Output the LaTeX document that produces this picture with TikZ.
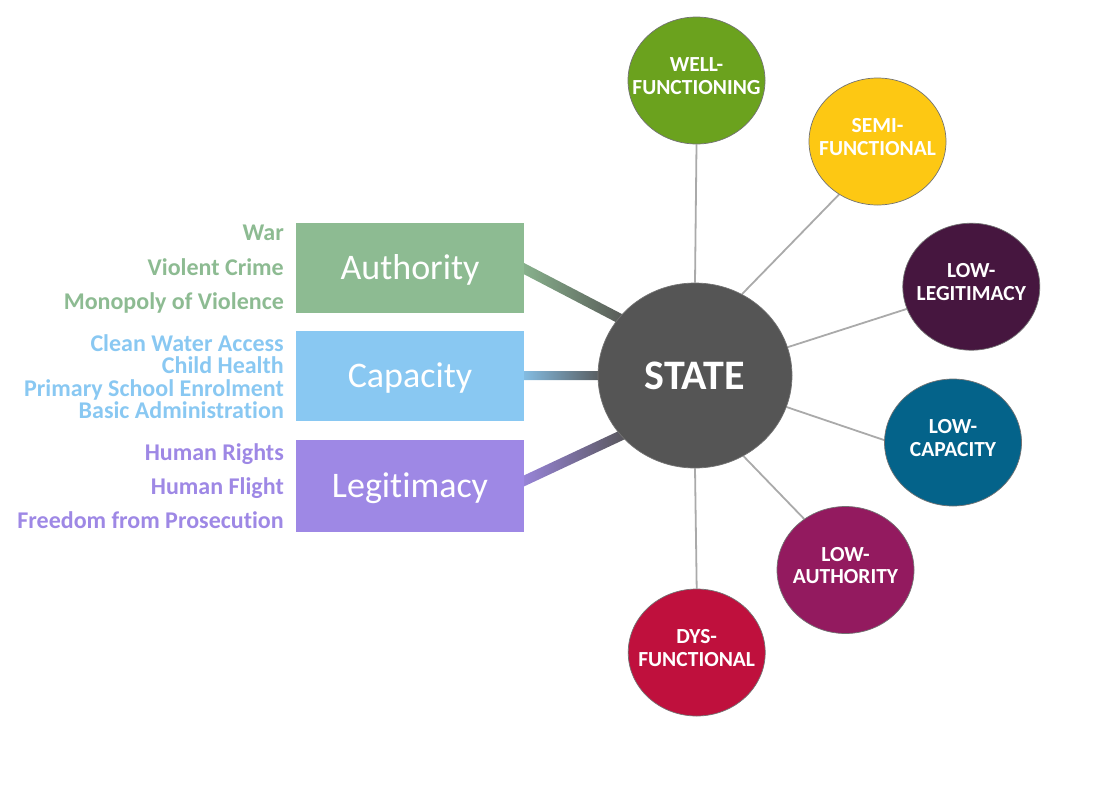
\documentclass[tikz,border=0pt]{standalone}
\usepackage{fontspec}
\setmainfont{Carlito}[Ligatures={NoCommon}]
\usetikzlibrary{shapes.geometric,calc,backgrounds}
\definecolor{authc}{HTML}{8DBB92}
\definecolor{capc}{HTML}{89C8F2}
\definecolor{legc}{HTML}{9E88E5}
\definecolor{statec}{HTML}{555555}
\definecolor{wfc}{HTML}{6BA21E}
\definecolor{semic}{HTML}{FDC813}
\definecolor{llc}{HTML}{46163F}
\definecolor{lcc}{HTML}{04638A}
\definecolor{lac}{HTML}{931A5F}
\definecolor{dysc}{HTML}{BF103D}
\definecolor{spokec}{HTML}{AAAAAA}
\newcommand\thicklink[5]{%
  \shade[left color=#4,right color=#5]
    ($(#1)!#3!90:(#2)$) -- ($(#1)!#3!-90:(#2)$) --
    ($(#2)!#3!90:(#1)$) -- ($(#2)!#3!-90:(#1)$) -- cycle;}
\begin{document}
\begin{tikzpicture}[x=1pt,y=-1pt,
  bubble/.style={ellipse, minimum width=137pt, minimum height=127pt, inner sep=0pt,
    draw=black!55, line width=0.7pt},
  bubbletext/.style={text=white, align=center, inner sep=0pt, yshift=4.5pt,
    font=\fontsize{21.5}{22.4}\selectfont\bfseries},
  catbox/.style={rectangle, minimum width=228pt, inner sep=0pt, text=white,
    font=\fontsize{36}{36}\selectfont, text height=23pt, text depth=0pt},
  item/.style={anchor=base east, inner sep=0pt, text height=15pt, text depth=4pt,
    font=\fontsize{24}{24}\selectfont\bfseries},
  spoke/.style={draw=spokec, line width=1.8pt}
]
\useasboundingbox (0,0) rectangle (1110,785);

% central node and outer bubbles
\node[ellipse, minimum width=194pt, minimum height=185pt, inner sep=0pt, fill=statec,
  draw=black!55, line width=0.7pt, text=white, font=\fontsize{42}{42}\selectfont\bfseries]
  (state) at (695,375.5) {STATE};

\node[bubble, fill=wfc, label={[bubbletext]center:{WELL-\\FUNCTIONING}}] (wf) at (696.5,80.5) {};
\node[bubble, fill=semic, label={[bubbletext]center:{SEMI-\\FUNCTIONAL}}] (semi) at (877.5,141.5) {};
\node[bubble, fill=llc, label={[bubbletext]center:{LOW-\\LEGITIMACY}}] (ll) at (971.3,286.7) {};
\node[bubble, fill=lcc, label={[bubbletext]center:{LOW-\\CAPACITY}}] (lc) at (953,442.5) {};
\node[bubble, fill=lac, label={[bubbletext]center:{LOW-\\AUTHORITY}}] (la) at (845.5,570) {};
\node[bubble, fill=dysc, label={[bubbletext]center:{DYS-\\FUNCTIONAL}}] (dys) at (696.7,652.5) {};

% category boxes
\node[catbox, fill=authc, minimum height=90pt] (auth) at (410,268) {Authority};
\node[catbox, fill=capc, minimum height=90pt] (cap) at (410,375.7) {Capacity};
\node[catbox, fill=legc, minimum height=92pt] (legit) at (410,485.5) {Legitimacy};

% indicator texts
\node[item, text=authc] (t1) at (284,240.7) {War};
\node[item, text=authc] (t2) at (284,275) {Violent Crime};
\node[item, text=authc] (t3) at (284,309) {Monopoly of Violence};
\node[item, text=capc] (t4) at (284,351.7) {Clean Water Access};
\node[item, text=capc] (t5) at (284,373.3) {Child Health};
\node[item, text=capc] (t6) at (284,396) {Primary School Enrolment};
\node[item, text=capc] (t7) at (284,418.3) {Basic Administration};
\node[item, text=legc] (t8) at (284,460.7) {Human Rights};
\node[item, text=legc] (t9) at (284,494.3) {Human Flight};
\node[item, text=legc] (t10) at (284,528.3) {Freedom from Prosecution};

% connectors behind
\coordinate (a1) at ($(auth.east)+(-10,-4.5)$);
\coordinate (a2) at ($(a1)!1.08!(state.143)$);
\coordinate (c1) at ($(cap.east)+(-10,0)$);
\coordinate (c2) at ($(c1)!1.1!(state.180)$);
\coordinate (l1) at ($(legit.east)+(-10,0)$);
\coordinate (l2) at ($(l1)!1.08!(state.219)$);
\begin{pgfonlayer}{background}
  \thicklink{a1}{a2}{5pt}{authc}{statec}
  \thicklink{c1}{c2}{4.5pt}{capc}{statec}
  \thicklink{l1}{l2}{5pt}{legc}{statec}
  \draw[spoke] (state.90) -- (wf.270);
  \draw[spoke] (state.60) -- (semi.234);
  \draw[spoke] (state.17) -- (ll.199);
  \draw[spoke] (state.341) -- (lc.178);
  \draw[spoke] (state.301) -- (la.129);
  \draw[spoke] (state.270) -- (dys.90);
\end{pgfonlayer}
\end{tikzpicture}
\end{document}
